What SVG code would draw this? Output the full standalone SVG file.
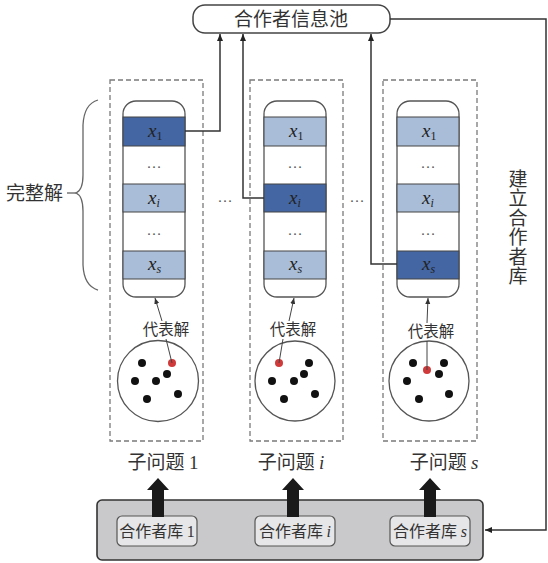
<svg xmlns="http://www.w3.org/2000/svg" width="548" height="563" viewBox="0 0 548 563">
<style>
.cjk{font-family:"Noto Sans CJK SC","Liberation Sans",sans-serif;fill:#333}
.ser{font-family:"Liberation Serif",serif;fill:#333}
.dash{fill:none;stroke:#7a7a7a;stroke-width:1.3;stroke-dasharray:5 3}
.col{fill:#fff;stroke:#555;stroke-width:1.3}
.dk{fill:#4466a3;stroke:#444;stroke-width:1}
.lt{fill:#a9bdd8;stroke:#444;stroke-width:1}
.conn{fill:none;stroke:#333;stroke-width:1.5}
.thin{fill:none;stroke:#444;stroke-width:1}
.dot{fill:#111}
.red{fill:#d03a3a}
.circ{fill:#fff;stroke:#555;stroke-width:1.3}
.ell{font-family:"Liberation Serif",serif;fill:#555;font-size:15px}
.xl{font-family:"Liberation Serif",serif;fill:#222;font-size:19px;font-style:italic}
</style>
<defs>
<marker id="ah" markerWidth="8" markerHeight="8" refX="7" refY="4" orient="auto" markerUnits="userSpaceOnUse">
<path d="M0,1 L7,4 L0,7 Z" fill="#222"/>
</marker>
<marker id="ahs" markerWidth="7" markerHeight="7" refX="6" refY="3.5" orient="auto" markerUnits="userSpaceOnUse">
<path d="M0,1 L6,3.5 L0,6 Z" fill="#333"/>
</marker>
</defs>

<g id="pool">
<rect x="193" y="5" width="197" height="28" rx="12" fill="#fff" stroke="#444" stroke-width="1.5"/>
<text class="cjk" x="291" y="26" font-size="19" text-anchor="middle">合作者信息池</text>
</g>

<g id="brace-label">
<text class="cjk" x="6" y="200" font-size="19">完整解</text>
<line x1="67" y1="193" x2="76" y2="193" stroke="#555" stroke-width="1.2"/>
<path d="M98,100 Q84,104 83,125 L83,175 Q83,190 76,193 Q83,196 83,211 L83,265 Q84,286 98,290" fill="none" stroke="#666" stroke-width="1.3"/>
</g>

<g id="sub1">
<rect class="dash" x="110" y="80" width="93" height="361"/>
<rect class="col" x="123" y="101" width="62" height="196" rx="13"/>
<rect class="dk" x="123" y="117" width="62" height="29"/>
<rect class="lt" x="123" y="184" width="62" height="28"/>
<rect class="lt" x="123" y="251" width="62" height="28"/>
<text class="xl" x="148" y="137">x<tspan font-size="12" font-style="normal" dy="3">1</tspan></text>
<text class="ell" x="154" y="168" text-anchor="middle">…</text>
<text class="xl" x="148" y="204">x<tspan font-size="12" dy="3">i</tspan></text>
<text class="ell" x="154" y="235" text-anchor="middle">…</text>
<text class="xl" x="148" y="270">x<tspan font-size="12" dy="3">s</tspan></text>
<circle class="circ" cx="158" cy="381" r="40.5"/>
<circle class="dot" cx="142" cy="363" r="4"/>
<circle class="dot" cx="135" cy="381" r="4"/>
<circle class="dot" cx="156" cy="381" r="4"/>
<circle class="dot" cx="167" cy="374" r="4"/>
<circle class="dot" cx="147" cy="399" r="4"/>
<circle class="dot" cx="178" cy="394" r="4"/>
<circle class="red" cx="172" cy="363" r="4"/>
<text class="cjk" x="166" y="335" font-size="15.5" text-anchor="middle">代表解</text>
<text class="cjk" x="163" y="469" font-size="19" text-anchor="middle">子问题 <tspan class="ser">1</tspan></text>
</g>

<g id="sub2">
<rect class="dash" x="250" y="80" width="93" height="361"/>
<rect class="col" x="264" y="101" width="62" height="196" rx="13"/>
<rect class="lt" x="264" y="117" width="62" height="29"/>
<rect class="dk" x="264" y="184" width="62" height="28"/>
<rect class="lt" x="264" y="251" width="62" height="28"/>
<text class="xl" x="289" y="137">x<tspan font-size="12" font-style="normal" dy="3">1</tspan></text>
<text class="ell" x="295" y="168" text-anchor="middle">…</text>
<text class="xl" x="289" y="204">x<tspan font-size="12" dy="3">i</tspan></text>
<text class="ell" x="295" y="235" text-anchor="middle">…</text>
<text class="xl" x="289" y="270">x<tspan font-size="12" dy="3">s</tspan></text>
<circle class="circ" cx="295" cy="381" r="40"/>
<circle class="dot" cx="309" cy="363" r="4"/>
<circle class="dot" cx="272" cy="381" r="4"/>
<circle class="dot" cx="294" cy="381" r="4"/>
<circle class="dot" cx="304" cy="374" r="4"/>
<circle class="dot" cx="284" cy="399" r="4"/>
<circle class="dot" cx="315" cy="394" r="4"/>
<circle class="red" cx="279" cy="363" r="4"/>
<text class="cjk" x="293" y="335" font-size="15.5" text-anchor="middle">代表解</text>
<text class="cjk" x="291" y="469" font-size="19" text-anchor="middle">子问题 <tspan class="ser" font-style="italic">i</tspan></text>
</g>

<g id="sub3">
<rect class="dash" x="383" y="80" width="94" height="361"/>
<rect class="col" x="397" y="101" width="62" height="196" rx="13"/>
<rect class="lt" x="397" y="117" width="62" height="29"/>
<rect class="lt" x="397" y="184" width="62" height="28"/>
<rect class="dk" x="397" y="251" width="62" height="28"/>
<text class="xl" x="422" y="137">x<tspan font-size="12" font-style="normal" dy="3">1</tspan></text>
<text class="ell" x="428" y="168" text-anchor="middle">…</text>
<text class="xl" x="422" y="204">x<tspan font-size="12" dy="3">i</tspan></text>
<text class="ell" x="428" y="235" text-anchor="middle">…</text>
<text class="xl" x="422" y="270">x<tspan font-size="12" dy="3">s</tspan></text>
<circle class="circ" cx="429" cy="381" r="40"/>
<circle class="dot" cx="413" cy="363" r="4"/>
<circle class="dot" cx="444" cy="363" r="4"/>
<circle class="dot" cx="407" cy="381" r="4"/>
<circle class="dot" cx="439" cy="374" r="4"/>
<circle class="dot" cx="419" cy="399" r="4"/>
<circle class="dot" cx="449" cy="394" r="4"/>
<circle class="red" cx="427" cy="370" r="4"/>
<text class="cjk" x="431" y="337" font-size="15.5" text-anchor="middle">代表解</text>
<text class="cjk" x="444" y="469" font-size="19" text-anchor="middle">子问题 <tspan class="ser" font-style="italic">s</tspan></text>
</g>

<g id="ellipses">
<text class="ell" x="225" y="202" text-anchor="middle">…</text>
<text class="ell" x="357" y="202" text-anchor="middle">…</text>
</g>

<g id="build-label">
<text class="cjk" x="518" y="169" font-size="19" writing-mode="tb" letter-spacing="0.5">建立合作者库</text>
</g>

<g id="libs">
<rect x="97" y="500" width="386" height="60" rx="5" fill="#c9c9cb" stroke="#333" stroke-width="1.6"/>
<rect x="117" y="516" width="80" height="30" rx="5" fill="#e6e6e8" stroke="#555" stroke-width="1.2"/>
<text class="cjk" x="157" y="537" font-size="16" text-anchor="middle">合作者库 <tspan class="ser">1</tspan></text>
<rect x="255" y="516" width="80" height="30" rx="5" fill="#e6e6e8" stroke="#555" stroke-width="1.2"/>
<text class="cjk" x="295" y="537" font-size="16" text-anchor="middle">合作者库 <tspan class="ser" font-style="italic">i</tspan></text>
<rect x="390" y="516" width="80" height="30" rx="5" fill="#e6e6e8" stroke="#555" stroke-width="1.2"/>
<text class="cjk" x="430" y="537" font-size="16" text-anchor="middle">合作者库 <tspan class="ser" font-style="italic">s</tspan></text>
</g>

<g id="connectors">
<polyline class="conn" points="185,131 220,131 220,34" marker-end="url(#ah)"/>
<polyline class="conn" points="264,198 243,198 243,34" marker-end="url(#ah)"/>
<polyline class="conn" points="397,264 371,264 371,34" marker-end="url(#ah)"/>
<polyline class="conn" points="390,19 546,19 546,530 485,530" marker-end="url(#ah)"/>
<line class="thin" x1="172" y1="363" x2="166" y2="339"/>
<line class="thin" x1="162" y1="321" x2="155" y2="298" marker-end="url(#ahs)"/>
<line class="thin" x1="279" y1="363" x2="283" y2="339"/>
<line class="thin" x1="289" y1="321" x2="294" y2="298" marker-end="url(#ahs)"/>
<line class="thin" x1="427" y1="370" x2="427" y2="341"/>
<line class="thin" x1="427" y1="323" x2="428" y2="298" marker-end="url(#ahs)"/>
<path d="M152,517 L152,490 L147,490 L158,478 L169,490 L164,490 L164,517 Z" fill="#1a1a1a"/>
<path d="M287,517 L287,490 L282,490 L293,478 L304,490 L299,490 L299,517 Z" fill="#1a1a1a"/>
<path d="M424,517 L424,490 L419,490 L430,478 L441,490 L436,490 L436,517 Z" fill="#1a1a1a"/>
</g>
</svg>
